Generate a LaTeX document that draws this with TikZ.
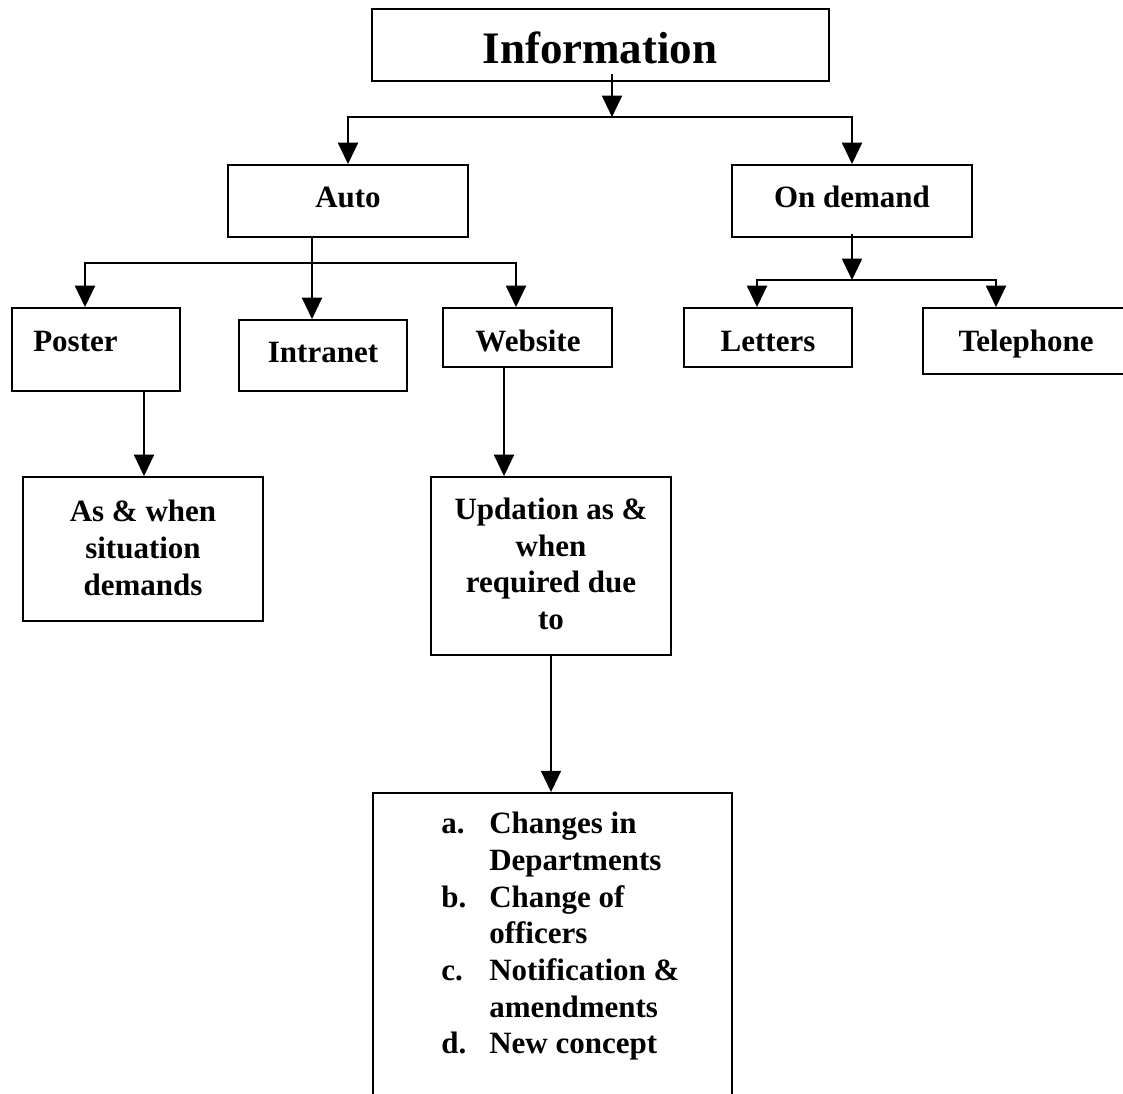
\documentclass[tikz,border=0pt]{standalone}
\usepackage{fontspec}
\setmainfont{Liberation Serif}
\usetikzlibrary{arrows.meta,fit,calc}
\begin{document}
\begin{tikzpicture}[x=0.75pt,y=-0.75pt,
  box/.style={draw, line width=1.4pt, inner sep=0pt, rectangle},
  txt/.style={font=\bfseries\fontsize{23.25pt}{27.5pt}\selectfont, inner sep=0pt, align=center},
  conn/.style={line width=1.4pt},
  arr/.style={conn, -{Triangle[width=15pt,length=16pt]}}]
\clip (0,0) rectangle (1123,1093);
\fill[white] (0,0) rectangle (1123,1093);

% boxes
\node[box, fit={(372,9) (829,81)}] (info) {};
\node[box, fit={(228,165) (468,237)}] (auto) {};
\node[box, fit={(732,165) (972,237)}] (ondemand) {};
\node[box, fit={(12,308) (180,391)}] (poster) {};
\node[box, fit={(239,320) (407,391)}] (intranet) {};
\node[box, fit={(443,308) (612,367)}] (website) {};
\node[box, fit={(684,308) (852,367)}] (letters) {};
\node[box, fit={(923,308) (1135,374)}] (telephone) {};
\node[box, fit={(23,477) (263,621)}] (aswhen) {};
\node[box, fit={(431,477) (671,655)}] (updation) {};
\node[box, fit={(373,793) (732,1120)}] (reasons) {};

% texts
\node[txt, font=\bfseries\fontsize{33.75pt}{40pt}\selectfont, anchor=base] (infot) at (600,63) {Information};
\node[txt, anchor=base] (autot) at (348,207) {Auto};
\node[txt, anchor=base] (ondemandt) at (852,207) {On demand};
\node[txt, anchor=base west] (postert) at (33,351) {Poster};
\node[txt, anchor=base] (intranett) at (323,362) {Intranet};
\node[txt, anchor=base] (websitet) at (528,351) {Website};
\node[txt, anchor=base] (letterst) at (768,351) {Letters};
\node[txt, anchor=base] (telephonet) at (1026,351) {Telephone};
\node[txt] (aswhent) at (143,548) {As \& when\\situation\\demands};
\node[txt] (updationt) at (551,564) {Updation as \&\\when\\required due\\to};
\node[txt, align=left, anchor=north west] (reasonst) at (441,808)
  {\begin{tabular}{@{}p{36pt}@{}l@{}}
   a. & Changes in\\
      & Departments\\
   b. & Change of\\
      & officers\\
   c. & Notification \&\\
      & amendments\\
   d. & New concept
   \end{tabular}};

% junction points and arrow columns
\coordinate (j1) at (612,117);
\coordinate (j2) at (312,263);
\coordinate (j3) at (852,280);
\coordinate (cP) at (85,0);
\coordinate (cW) at (516,0);
\coordinate (cA) at (144,0);
\coordinate (cU) at (504,0);
\coordinate (cL) at (757,0);
\coordinate (cT) at (996,0);

% connectors
\draw[arr] ([yshift=6pt]info.south -| j1) -- (j1);
\draw[arr] (j1) -| (auto.north);
\draw[arr] (j1) -| (ondemand.north);

\draw[conn] (auto.south -| j2) -- (j2);
\draw[arr] (j2) -- (intranet.north -| j2);
\draw[arr] (j2) -| (poster.north -| cP);
\draw[arr] (j2) -| (website.north -| cW);

\draw[arr] (poster.south -| cA) -- (aswhen.north -| cA);
\draw[arr] (website.south -| cU) -- (updation.north -| cU);
\draw[arr] (updation.south) -- (updation.south |- reasons.north);

\draw[arr] ([yshift=3pt]ondemand.south) -- (j3);
\draw[arr] (j3) -| (letters.north -| cL);
\draw[arr] (j3) -| (telephone.north -| cT);
\end{tikzpicture}
\end{document}
